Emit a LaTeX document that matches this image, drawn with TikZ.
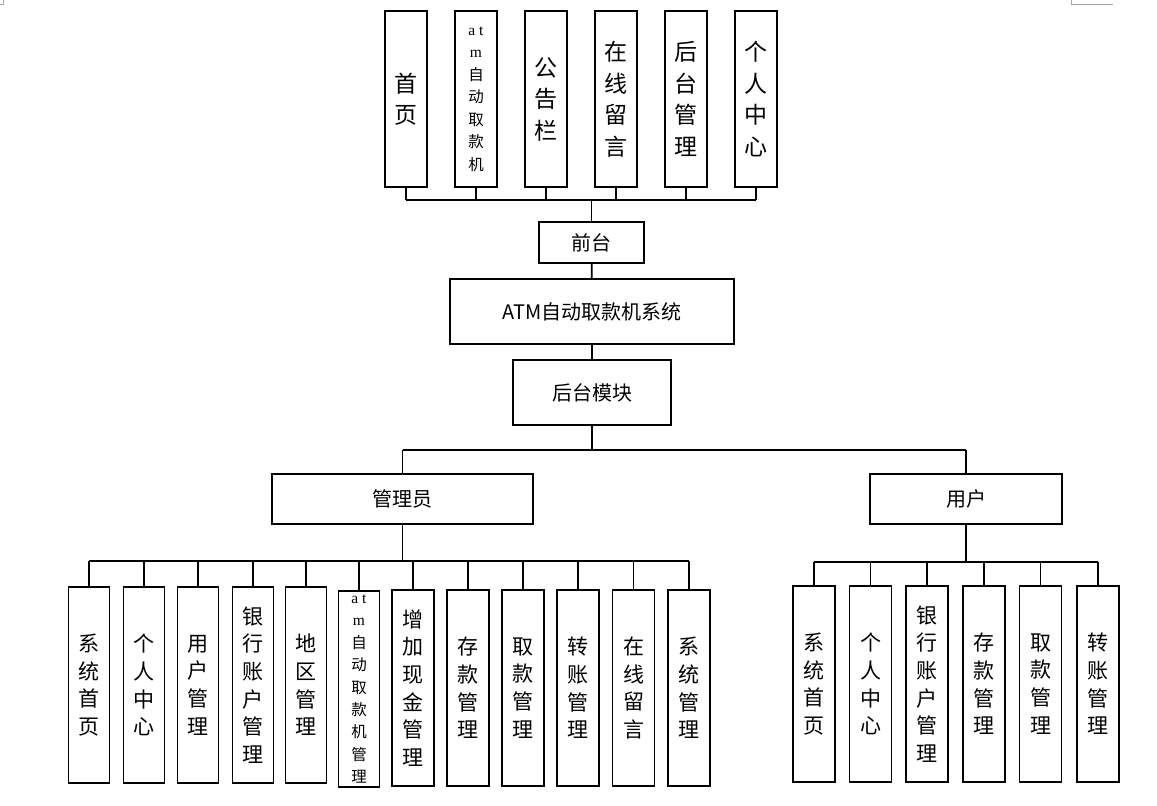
\documentclass[tikz,border=0pt]{standalone}
\usepackage{fontspec}
\setmainfont{Noto Sans CJK SC}
\newfontfamily\latinserif{Liberation Serif}
\begin{document}
\begin{tikzpicture}[x=1pt,y=-1pt,
  box/.style={draw=black,line width=1.8pt,fill=white,inner sep=0pt,align=center},
  topv/.style={box,minimum width=42pt,minimum height=176pt,font=\fontsize{23}{31.5}\selectfont},
  atmv/.style={box,minimum width=42pt,minimum height=176pt,font=\fontsize{15.5}{22.5}\selectfont},
  botv/.style={box,minimum width=41pt,minimum height=196pt,font=\fontsize{21}{27.7}\selectfont},
  atmb/.style={box,minimum width=41pt,minimum height=196pt,font=\fontsize{15.5}{22.4}\selectfont},
  hbox/.style={box,font=\fontsize{20}{24}\selectfont},
  link/.style={line width=1.8pt}]
\useasboundingbox (0,0) rectangle (1157,806);
\draw[gray!70,line width=1pt] (1071,0) -- (1071,4) -- (1113,4);
\draw[gray!70,line width=1pt] (0,4) -- (3,4) -- (3,0);
% top row
\node[topv] (t1) at (406,99) {首\\页};
\node[atmv] (t2) at (476,99) {{\latinserif a t}\\{\latinserif m}\\自\\动\\取\\款\\机};
\node[topv] (t3) at (546,99) {公\\告\\栏};
\node[topv] (t4) at (616,99) {在\\线\\留\\言};
\node[topv] (t5) at (686,99) {后\\台\\管\\理};
\node[topv] (t6) at (756,99) {个\\人\\中\\心};
% middle
\node[hbox,minimum width=105pt,minimum height=41pt] (qt) at (591.5,242.5) {前台};
\node[hbox,minimum width=284pt,minimum height=65pt] (sys) at (592,311.5) {ATM自动取款机系统};
\node[hbox,minimum width=158pt,minimum height=65pt] (ht) at (592,392.5) {后台模块};
\node[hbox,minimum width=261pt,minimum height=50pt] (adm) at (402.5,499) {管理员};
\node[hbox,minimum width=192pt,minimum height=50pt] (usr) at (966,499) {用户};
% admin children
\node[botv] (a1) at (89,685) {系\\统\\首\\页};
\node[botv] (a2) at (144,685) {个\\人\\中\\心};
\node[botv] (a3) at (198,685) {用\\户\\管\\理};
\node[botv] (a4) at (253,685) {银\\行\\账\\户\\管\\理};
\node[botv] (a5) at (306,685) {地\\区\\管\\理};
\node[atmb] (a6) at (359,689) {{\latinserif a t}\\{\latinserif m}\\自\\动\\取\\款\\机\\管\\理};
\node[botv,minimum width=42pt] (a7) at (413,688) {增\\加\\现\\金\\管\\理};
\node[botv,minimum width=42pt] (a8) at (468,688) {存\\款\\管\\理};
\node[botv,minimum width=42pt] (a9) at (523,688) {取\\款\\管\\理};
\node[botv,minimum width=42pt] (a10) at (578,688) {转\\账\\管\\理};
\node[botv,minimum width=42pt] (a11) at (633.5,688) {在\\线\\留\\言};
\node[botv,minimum width=42pt] (a12) at (689,688) {系\\统\\管\\理};
% user children
\node[botv,minimum width=42pt] (u1) at (814,684) {系\\统\\首\\页};
\node[botv,minimum width=42pt] (u2) at (870.5,684) {个\\人\\中\\心};
\node[botv,minimum width=42pt] (u3) at (927,684) {银\\行\\账\\户\\管\\理};
\node[botv,minimum width=42pt] (u4) at (984,684) {存\\款\\管\\理};
\node[botv,minimum width=42pt] (u5) at (1040.5,684) {取\\款\\管\\理};
\node[botv,minimum width=42pt] (u6) at (1098,684) {转\\账\\管\\理};
% bus coordinates
\coordinate (tb) at (0,200);
\coordinate (mb) at (0,450);
\coordinate (ab) at (0,561);
\coordinate (ub) at (0,562);
% top connectors
\foreach \n in {t1,t2,t3,t4,t5,t6} \draw[link] (\n.south) -- (\n.south |- tb);
\draw[link] (t1.south |- tb) -- (t6.south |- tb);
\draw[link] (qt.north) -- (qt.north |- tb);
\draw[link] (qt) -- (sys);
\draw[link] (sys) -- (ht);
% middle bus
\draw[link] (ht.south) -- (ht.south |- mb);
\draw[link] (adm.north |- mb) -- (usr.north |- mb);
\draw[link] (adm.north) -- (adm.north |- mb);
\draw[link] (usr.north) -- (usr.north |- mb);
% admin bus
\draw[link] (adm.south) -- (adm.south |- ab);
\draw[link] (a1.north |- ab) -- (a12.north |- ab);
\foreach \n in {a1,a2,a3,a4,a5,a6,a7,a8,a9,a10,a11,a12} \draw[link] (\n.north) -- (\n.north |- ab);
% user bus
\draw[link] (usr.south) -- (usr.south |- ub);
\draw[link] (u1.north |- ub) -- (u6.north |- ub);
\foreach \n in {u1,u2,u3,u4,u5,u6} \draw[link] (\n.north) -- (\n.north |- ub);
\end{tikzpicture}
\end{document}
